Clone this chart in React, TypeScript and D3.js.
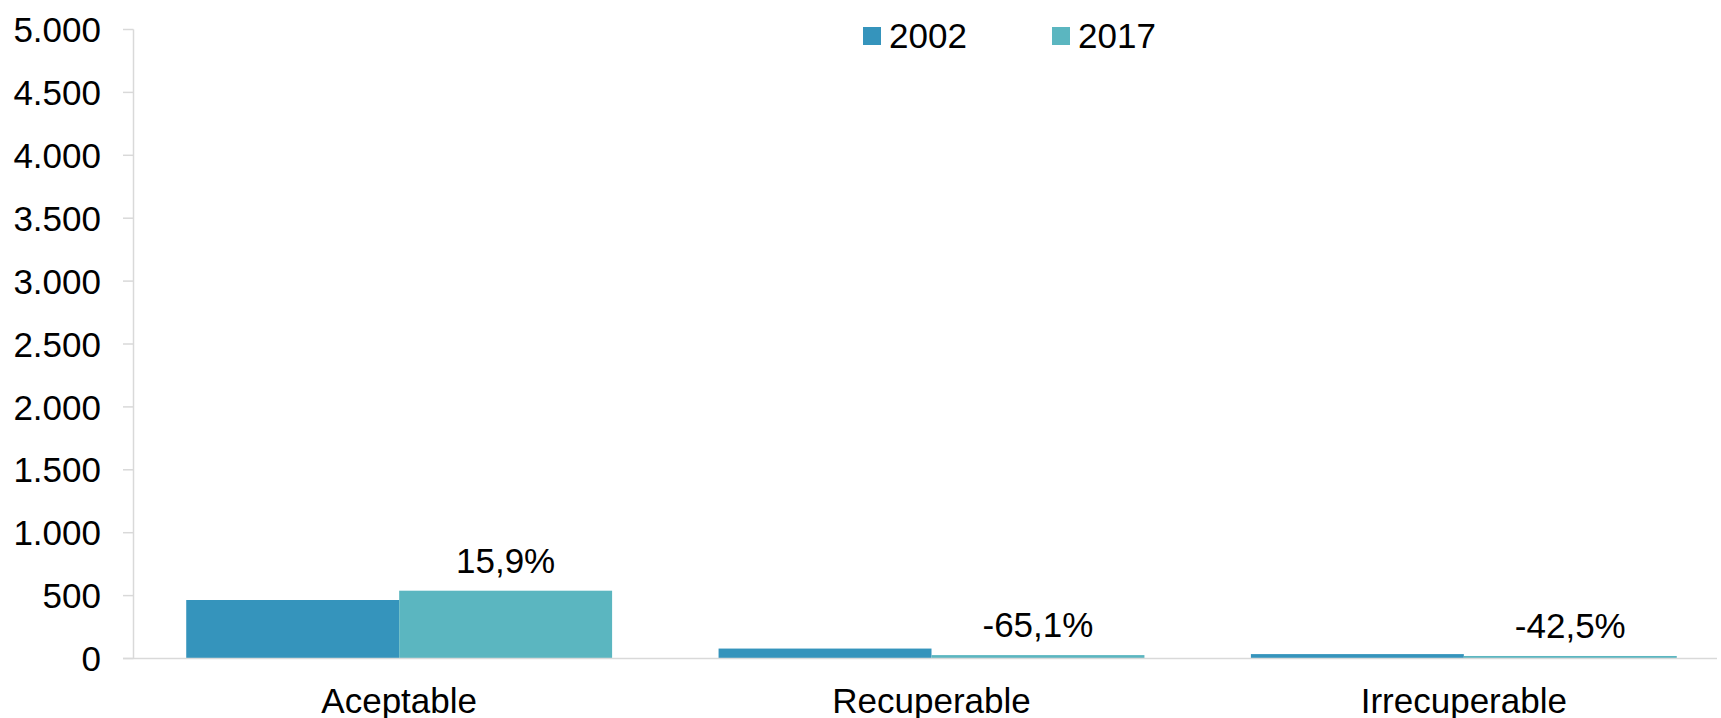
import * as React from 'react';
import * as d3 from 'd3';

const categories = ['Aceptable', 'Recuperable', 'Irrecuperable'];
const seriesNames = ['2002', '2017'];
const values2002 = [465, 79, 35];
const values2017 = [539, 27, 20];
const changeLabels = ['15,9%', '-65,1%', '-42,5%'];
const yTicks = [0, 500, 1000, 1500, 2000, 2500, 3000, 3500, 4000, 4500, 5000];

const colors = ['#3594BC', '#5BB6C0'];
const font = '"Liberation Sans", Arial, sans-serif';
const fs = 35;

const App: React.FC = () => {
  const width = 1721;
  const height = 718;
  const axisX = 133.5;

  const x = d3.scaleBand().domain(categories).range([133, 1730]).padding(0);
  const y = d3.scaleLinear().domain([0, 5000]).range([658.5, 29.5]);

  // Excel style: gap width 50% -> group = 2.5 bar widths
  const barW = x.bandwidth() / 2.5;
  const series = [values2002, values2017];

  const fmt = (v: number) => d3.format(',')(v).replace(/,/g, '.');

  return (
    <svg width={width} height={height} style={{ position: 'absolute', left: 0, top: 0, background: '#fff' }}>
      {/* y axis */}
      <line x1={axisX} x2={axisX} y1={y(5000)} y2={y(0)} stroke="#d9d9d9" strokeWidth={1.5} />
      {yTicks.map(t => (
        <g key={t}>
          <line x1={123} x2={axisX} y1={y(t)} y2={y(t)} stroke="#d9d9d9" strokeWidth={1.5} />
          <text x={101} y={y(t)} dy="0.36em" textAnchor="end" fontFamily={font} fontSize={fs} fill="#000">
            {fmt(t)}
          </text>
        </g>
      ))}

      {/* bars */}
      {categories.map((c, i) => (
        <g key={c}>
          {series.map((vals, s) => (
            <rect
              key={s}
              x={x(c)! + barW * 0.25 + s * barW}
              y={y(vals[i])}
              width={barW}
              height={y(0) - y(vals[i])}
              fill={colors[s]}
            />
          ))}
          <text
            x={x(c)! + barW * 0.25 + barW * 1.5}
            y={y(values2017[i]) - 18}
            textAnchor="middle"
            fontFamily={font}
            fontSize={fs}
            fill="#000"
          >
            {changeLabels[i]}
          </text>
          <text x={x(c)! + x.bandwidth() / 2} y={713} textAnchor="middle" fontFamily={font} fontSize={fs} fill="#000">
            {c}
          </text>
        </g>
      ))}

      {/* x baseline */}
      <line x1={123} x2={1717} y1={y(0)} y2={y(0)} stroke="#d9d9d9" strokeWidth={1.5} />

      {/* legend */}
      {seriesNames.map((n, i) => (
        <g key={n} transform={`translate(${863 + i * 189},0)`}>
          <rect x={0} y={27} width={18} height={18} fill={colors[i]} />
          <text x={26} y={48} fontFamily={font} fontSize={fs} fill="#000">{n}</text>
        </g>
      ))}
    </svg>
  );
};

export default App;
